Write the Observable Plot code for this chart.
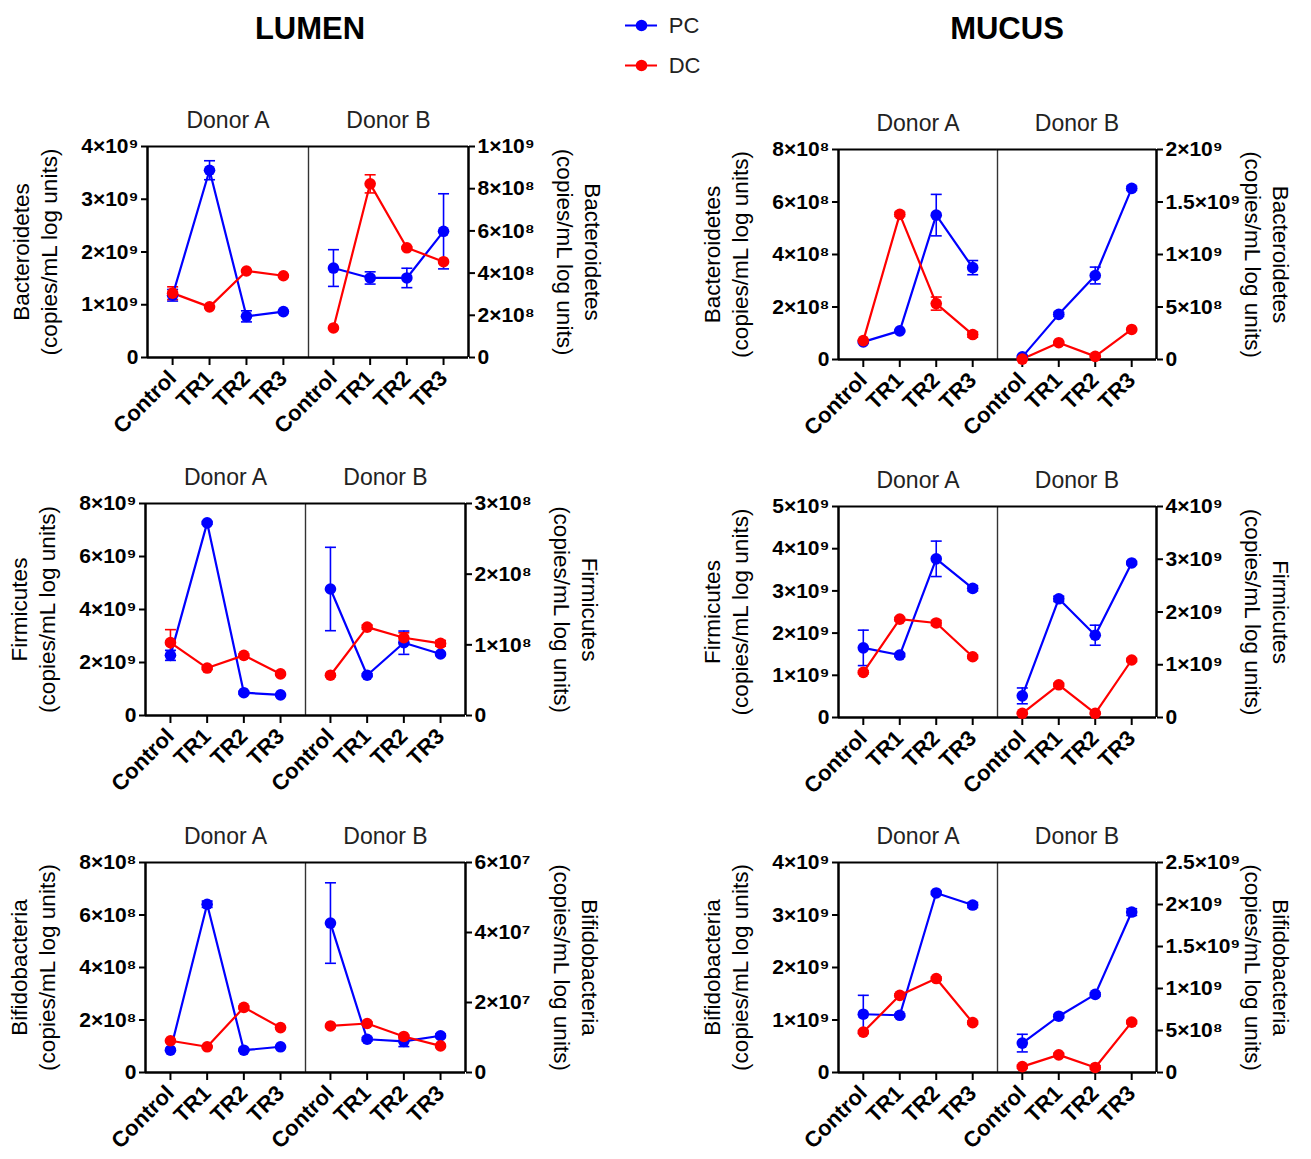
<!DOCTYPE html>
<html><head><meta charset="utf-8">
<script src="https://cdn.jsdelivr.net/npm/d3@7"></script>
<script src="https://cdn.jsdelivr.net/npm/@observablehq/plot@0.6"></script>
<style>
body{margin:0;background:#fff;font-family:"Liberation Sans",Arial,sans-serif;}
#root{position:relative;width:1311px;height:1159px;overflow:hidden;background:#fff;}
.hdr{position:absolute;font-weight:bold;font-size:31px;transform:translate(-50%,-50%);white-space:nowrap;color:#000;}
</style></head><body><div id="root"></div>
<script>
// ---------- data ----------
const categories = ["Control", "TR1", "TR2", "TR3"];
const seriesNames = ["PC", "DC"];
const seriesColors = ["#0000ff", "#ff0000"];
const donors = ["Donor A", "Donor B"];
const sections = ["LUMEN", "MUCUS"];
const taxa = ["Bacteroidetes", "Firmicutes", "Bifidobacteria"];
const unitLabel = "(copies/mL log units)";

// Lumen – Bacteroidetes
const lumenBactTicksA = [0, 1e9, 2e9, 3e9, 4e9];
const lumenBactA_PC = [1.18e9, 3.55e9, 0.78e9, 0.87e9];
const lumenBactA_PC_sem = [0.11e9, 0.18e9, 0.105e9, 0.02e9];
const lumenBactA_DC = [1.22e9, 0.96e9, 1.64e9, 1.55e9];
const lumenBactA_DC_sem = [0.12e9, 0.02e9, 0.02e9, 0.02e9];
const lumenBactTicksB = [0, 2e8, 4e8, 6e8, 8e8, 1e9];
const lumenBactB_PC = [4.24e8, 3.77e8, 3.77e8, 5.98e8];
const lumenBactB_PC_sem = [0.87e8, 0.29e8, 0.46e8, 1.78e8];
const lumenBactB_DC = [1.40e8, 8.23e8, 5.20e8, 4.54e8];
const lumenBactB_DC_sem = [0.03e8, 0.43e8, 0.05e8, 0.05e8];

// Mucus – Bacteroidetes
const mucusBactTicksA = [0, 2e8, 4e8, 6e8, 8e8];
const mucusBactA_PC = [0.67e8, 1.09e8, 5.50e8, 3.50e8];
const mucusBactA_PC_sem = [0.04e8, 0.03e8, 0.79e8, 0.27e8];
const mucusBactA_DC = [0.72e8, 5.53e8, 2.13e8, 0.95e8];
const mucusBactA_DC_sem = [0.03e8, 0.08e8, 0.25e8, 0.10e8];
const mucusBactTicksB = [0, 5e8, 1e9, 1.5e9, 2e9];
const mucusBactB_PC = [0.025e9, 0.43e9, 0.80e9, 1.63e9];
const mucusBactB_PC_sem = [0.01e9, 0.02e9, 0.08e9, 0.02e9];
const mucusBactB_DC = [0.004e9, 0.16e9, 0.03e9, 0.286e9];
const mucusBactB_DC_sem = [0.005e9, 0.01e9, 0.01e9, 0.01e9];

// Lumen – Firmicutes
const lumenFirmTicksA = [0, 2e9, 4e9, 6e9, 8e9];
const lumenFirmA_PC = [2.27e9, 7.27e9, 0.86e9, 0.78e9];
const lumenFirmA_PC_sem = [0.19e9, 0.05e9, 0.05e9, 0.04e9];
const lumenFirmA_DC = [2.75e9, 1.79e9, 2.27e9, 1.57e9];
const lumenFirmA_DC_sem = [0.49e9, 0.05e9, 0.05e9, 0.05e9];
const lumenFirmTicksB = [0, 1e8, 2e8, 3e8];
const lumenFirmB_PC = [1.79e8, 0.57e8, 1.03e8, 0.87e8];
const lumenFirmB_PC_sem = [0.59e8, 0.02e8, 0.165e8, 0.02e8];
const lumenFirmB_DC = [0.57e8, 1.25e8, 1.10e8, 1.02e8];
const lumenFirmB_DC_sem = [0.02e8, 0.03e8, 0.07e8, 0.04e8];

// Mucus – Firmicutes
const mucusFirmTicksA = [0, 1e9, 2e9, 3e9, 4e9, 5e9];
const mucusFirmA_PC = [1.65e9, 1.48e9, 3.76e9, 3.06e9];
const mucusFirmA_PC_sem = [0.42e9, 0.04e9, 0.42e9, 0.06e9];
const mucusFirmA_DC = [1.07e9, 2.33e9, 2.24e9, 1.44e9];
const mucusFirmA_DC_sem = [0.04e9, 0.04e9, 0.06e9, 0.04e9];
const mucusFirmTicksB = [0, 1e9, 2e9, 3e9, 4e9];
const mucusFirmB_PC = [0.41e9, 2.25e9, 1.56e9, 2.93e9];
const mucusFirmB_PC_sem = [0.15e9, 0.05e9, 0.19e9, 0.03e9];
const mucusFirmB_DC = [0.08e9, 0.62e9, 0.08e9, 1.09e9];
const mucusFirmB_DC_sem = [0.02e9, 0.03e9, 0.02e9, 0.03e9];

// Lumen – Bifidobacteria
const lumenBifTicksA = [0, 2e8, 4e8, 6e8, 8e8];
const lumenBifA_PC = [0.85e8, 6.41e8, 0.85e8, 0.98e8];
const lumenBifA_PC_sem = [0.04e8, 0.12e8, 0.04e8, 0.04e8];
const lumenBifA_DC = [1.21e8, 0.98e8, 2.48e8, 1.71e8];
const lumenBifA_DC_sem = [0.04e8, 0.03e8, 0.05e8, 0.04e8];
const lumenBifTicksB = [0, 2e7, 4e7, 6e7];
const lumenBifB_PC = [4.27e7, 0.95e7, 0.89e7, 1.05e7];
const lumenBifB_PC_sem = [1.15e7, 0.05e7, 0.15e7, 0.05e7];
const lumenBifB_DC = [1.33e7, 1.40e7, 1.03e7, 0.76e7];
const lumenBifB_DC_sem = [0.04e7, 0.04e7, 0.04e7, 0.04e7];

// Mucus – Bifidobacteria
const mucusBifTicksA = [0, 1e9, 2e9, 3e9, 4e9];
const mucusBifA_PC = [1.11e9, 1.09e9, 3.42e9, 3.19e9];
const mucusBifA_PC_sem = [0.36e9, 0.03e9, 0.03e9, 0.05e9];
const mucusBifA_DC = [0.77e9, 1.47e9, 1.79e9, 0.95e9];
const mucusBifA_DC_sem = [0.03e9, 0.03e9, 0.03e9, 0.03e9];
const mucusBifTicksB = [0, 5e8, 1e9, 1.5e9, 2e9, 2.5e9];
const mucusBifB_PC = [0.35e9, 0.67e9, 0.93e9, 1.91e9];
const mucusBifB_PC_sem = [0.105e9, 0.02e9, 0.02e9, 0.04e9];
const mucusBifB_DC = [0.07e9, 0.21e9, 0.06e9, 0.60e9];
const mucusBifB_DC_sem = [0.02e9, 0.02e9, 0.02e9, 0.02e9];

// ---------- layout (frame edges in page pixels) ----------
const panels = [
  {taxon: taxa[0], L: 147, D: 308, R: 468, T: 146, B: 357,
   A: {ticks: lumenBactTicksA, v: [lumenBactA_PC, lumenBactA_DC], e: [lumenBactA_PC_sem, lumenBactA_DC_sem]},
   Bd: {ticks: lumenBactTicksB, v: [lumenBactB_PC, lumenBactB_DC], e: [lumenBactB_PC_sem, lumenBactB_DC_sem]}},
  {taxon: taxa[0], L: 838, D: 997, R: 1156, T: 149, B: 359,
   A: {ticks: mucusBactTicksA, v: [mucusBactA_PC, mucusBactA_DC], e: [mucusBactA_PC_sem, mucusBactA_DC_sem]},
   Bd: {ticks: mucusBactTicksB, v: [mucusBactB_PC, mucusBactB_DC], e: [mucusBactB_PC_sem, mucusBactB_DC_sem]}},
  {taxon: taxa[1], L: 145, D: 305, R: 465, T: 503, B: 715,
   A: {ticks: lumenFirmTicksA, v: [lumenFirmA_PC, lumenFirmA_DC], e: [lumenFirmA_PC_sem, lumenFirmA_DC_sem]},
   Bd: {ticks: lumenFirmTicksB, v: [lumenFirmB_PC, lumenFirmB_DC], e: [lumenFirmB_PC_sem, lumenFirmB_DC_sem]}},
  {taxon: taxa[1], L: 838, D: 997, R: 1156, T: 506, B: 717,
   A: {ticks: mucusFirmTicksA, v: [mucusFirmA_PC, mucusFirmA_DC], e: [mucusFirmA_PC_sem, mucusFirmA_DC_sem]},
   Bd: {ticks: mucusFirmTicksB, v: [mucusFirmB_PC, mucusFirmB_DC], e: [mucusFirmB_PC_sem, mucusFirmB_DC_sem]}},
  {taxon: taxa[2], L: 145, D: 305, R: 465, T: 862, B: 1072,
   A: {ticks: lumenBifTicksA, v: [lumenBifA_PC, lumenBifA_DC], e: [lumenBifA_PC_sem, lumenBifA_DC_sem]},
   Bd: {ticks: lumenBifTicksB, v: [lumenBifB_PC, lumenBifB_DC], e: [lumenBifB_PC_sem, lumenBifB_DC_sem]}},
  {taxon: taxa[2], L: 838, D: 997, R: 1156, T: 862, B: 1072,
   A: {ticks: mucusBifTicksA, v: [mucusBifA_PC, mucusBifA_DC], e: [mucusBifA_PC_sem, mucusBifA_DC_sem]},
   Bd: {ticks: mucusBifTicksB, v: [mucusBifB_PC, mucusBifB_DC], e: [mucusBifB_PC_sem, mucusBifB_DC_sem]}}
];

const FONT = '"Liberation Sans", Arial, sans-serif';
const PAD = 0.68;
const SUP = {"0":"⁰","1":"¹","2":"²","3":"³","4":"⁴","5":"⁵","6":"⁶","7":"⁷","8":"⁸","9":"⁹","-":"⁻"};
function sci(v) {
  if (v === 0) return "0";
  const e = Math.floor(Math.log10(v) + 1e-9);
  const m = +(v / Math.pow(10, e)).toFixed(2);
  return m + "×10" + String(e).split("").map(c => SUP[c]).join("");
}
const capSymbol = {
  draw(context, size) {
    const w = Math.sqrt(size / Math.PI);
    context.moveTo(-w, 0);
    context.lineTo(w, 0);
  }
};

const root = document.getElementById("root");

function subPanel(p, donorIdx) {
  const d = donorIdx === 0 ? p.A : p.Bd;
  const left = donorIdx === 0;
  const rows = [];
  seriesNames.forEach((s, si) => d.v[si].forEach((v, i) => rows.push({series: s, i, v, e: d.e[si][i]})));
  const x0 = left ? p.L : p.D, x1 = left ? p.D : p.R;
  const fw = x1 - x0, fh = p.B - p.T;
  const mL = left ? 165 : 0, mR = left ? 0 : 180, mT = 50, mB = 110;
  const ymax = d.ticks[d.ticks.length - 1];
  const xmin = -PAD, xmax = categories.length - 1 + PAD;
  const svg = Plot.plot({
    width: mL + fw + mR, height: mT + fh + mB,
    marginLeft: mL, marginRight: mR, marginTop: mT, marginBottom: mB,
    style: {overflow: "visible", background: "none", fontFamily: FONT, color: "#000"},
    x: {domain: [xmin, xmax], axis: null},
    y: {domain: [0, ymax], axis: null},
    color: {domain: seriesNames, range: seriesColors},
    marks: [
      Plot.ruleY([ymax], {stroke: "#000", strokeWidth: 2}),
      Plot.ruleY([0], {stroke: "#000", strokeWidth: 2.5}),
      left ? Plot.ruleX([xmin], {stroke: "#000", strokeWidth: 2.5}) : Plot.ruleX([xmax], {stroke: "#000", strokeWidth: 2.5}),
      left ? Plot.ruleX([xmax], {stroke: "#333", strokeWidth: 1.4}) : null,
      Plot.axisY(d.ticks, {anchor: left ? "left" : "right", tickFormat: sci, tickSize: 6, tickPadding: 3,
        strokeWidth: 2, fontSize: 21, fontWeight: "bold", label: null}),
      Plot.axisX(d3.range(categories.length), {anchor: "bottom", tickFormat: i => categories[i], tickRotate: -45,
        tickSize: 8, tickPadding: 9, strokeWidth: 2, fontSize: 22, fontWeight: "bold", label: null}),
      Plot.ruleX(rows, {x: "i", y1: r => r.v - r.e, y2: r => r.v + r.e, stroke: "series", strokeWidth: 1.6}),
      Plot.dot(rows, {x: "i", y: r => r.v + r.e, symbol: capSymbol, r: 5.5, stroke: "series", fill: "none", strokeWidth: 1.6}),
      Plot.dot(rows, {x: "i", y: r => Math.max(0, r.v - r.e), symbol: capSymbol, r: 5.5, stroke: "series", fill: "none", strokeWidth: 1.6}),
      Plot.line(rows, {x: "i", y: "v", z: "series", stroke: "series", strokeWidth: 2.2}),
      Plot.dot(rows, {x: "i", y: "v", fill: "series", r: 5.8}),
      Plot.text([donors[donorIdx]], {frameAnchor: "top", dy: -26, lineAnchor: "middle", textAnchor: "middle",
        fontSize: 23, fill: "#222"}),
      Plot.text([p.taxon + "\n" + unitLabel], {frameAnchor: left ? "left" : "right", dx: left ? -113 : 111,
        rotate: left ? -90 : 90, textAnchor: "middle", lineAnchor: "middle", fontSize: 22.5, lineHeight: 1.24, fill: "#000"})
    ]
  });
  svg.style.position = "absolute";
  svg.style.left = (x0 - mL) + "px";
  svg.style.top = (p.T - mT) + "px";
  svg.style.maxWidth = "none";
  root.appendChild(svg);
}

panels.forEach(p => { subPanel(p, 0); subPanel(p, 1); });

// section headers
[[sections[0], 310], [sections[1], 1007]].forEach(([t, x]) => {
  const div = document.createElement("div");
  div.className = "hdr";
  div.style.left = x + "px";
  div.style.top = "29px";
  div.textContent = t;
  root.appendChild(div);
});

// legend
const legend = Plot.plot({
  width: 150, height: 90, marginLeft: 10, marginRight: 10, marginTop: 25, marginBottom: 25,
  style: {overflow: "visible", background: "none", fontFamily: FONT},
  x: {domain: [0, 4.06], axis: null},
  y: {type: "point", domain: seriesNames, padding: 0, axis: null},
  color: {domain: seriesNames, range: seriesColors},
  marks: [
    Plot.ruleY(seriesNames, {y: d => d, x1: 0, x2: 1, stroke: d => d, strokeWidth: 2.2}),
    Plot.dot(seriesNames, {x: 0.5, y: d => d, fill: d => d, r: 5.8}),
    Plot.text(seriesNames, {x: 1.35, y: d => d, text: d => d, textAnchor: "start", fontSize: 22, fill: "#222"})
  ]
});
legend.style.position = "absolute";
legend.style.left = "615px";
legend.style.top = "0px";
root.appendChild(legend);
</script></body></html>
